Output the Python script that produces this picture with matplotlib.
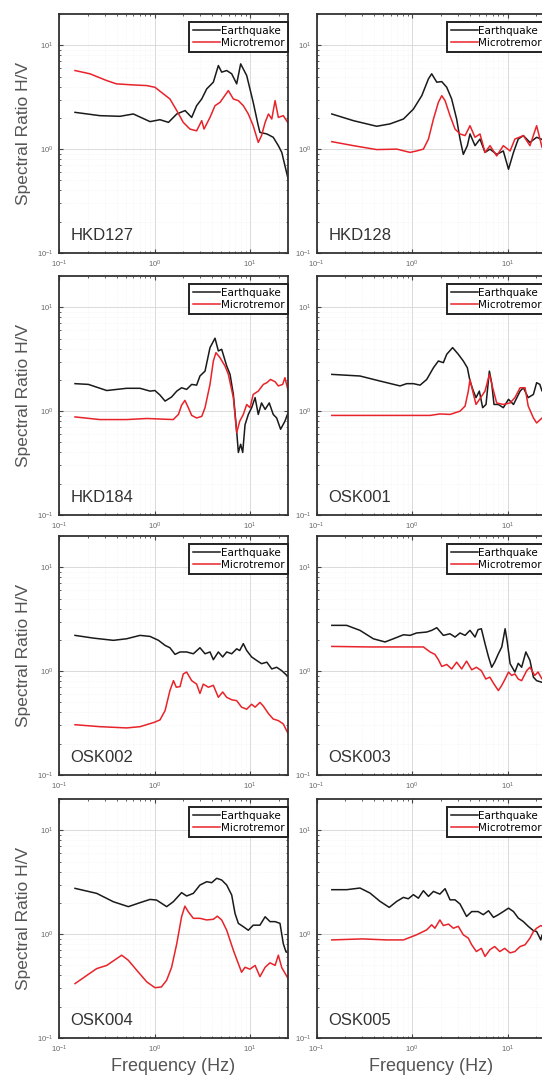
import numpy as np
import matplotlib.pyplot as plt
from matplotlib.ticker import LogLocator, NullFormatter

plt.rcParams['font.family'] = ['Liberation Sans', 'DejaVu Sans']

stations = ['HKD127', 'HKD128', 'HKD184', 'OSK001',
            'OSK002', 'OSK003', 'OSK004', 'OSK005']

# HKD127
hkd127_eq_f = [0.147, 0.268, 0.435, 0.60, 0.897, 1.14, 1.40, 1.71, 2.09, 2.45, 2.76, 3.12, 3.52, 4.13,
               4.66, 5.05, 5.70, 6.43, 7.25, 7.98, 9.23, 10.8, 12.2, 12.7, 15.0, 17.5, 19.8, 21.5, 25.4]
hkd127_eq_v = [2.26, 2.10, 2.07, 2.18, 1.84, 1.92, 1.81, 2.18, 2.35, 2.02, 2.62, 3.04, 3.80, 4.41,
               6.38, 5.51, 5.71, 5.31, 4.25, 6.62, 5.11, 2.82, 1.68, 1.45, 1.40, 1.30, 1.08, 0.93, 0.49]
hkd127_mt_f = [0.147, 0.211, 0.316, 0.40, 0.60, 0.83, 1.01, 1.24, 1.45, 1.71, 2.0, 2.35, 2.76, 3.12, 3.30,
               3.81, 4.30, 4.85, 5.93, 6.69, 7.55, 8.51, 9.6, 10.8, 12.2, 13.2, 14.4, 15.6, 16.9, 18.3,
               19.8, 22.3, 25.4]
hkd127_mt_v = [5.71, 5.31, 4.57, 4.25, 4.15, 4.09, 3.94, 3.40, 3.04, 2.35, 1.81, 1.56, 1.50, 1.88, 1.56,
               2.02, 2.62, 2.82, 3.66, 3.04, 2.93, 2.62, 2.18, 1.68, 1.16, 1.35, 1.81, 2.18, 1.95, 2.93,
               2.02, 2.10, 1.75]

# HKD128
hkd128_eq_f = [0.144, 0.242, 0.425, 0.586, 0.81, 1.03, 1.26, 1.48, 1.60, 1.81, 2.04, 2.30, 2.59, 2.92,
               3.17, 3.43, 3.78, 4.03, 4.55, 5.13, 5.79, 6.53, 7.67, 9.0, 10.2, 11.5, 12.9, 14.6, 17.1,
               20.1, 25.0]
hkd128_eq_v = [2.18, 1.88, 1.66, 1.75, 1.95, 2.43, 3.27, 4.75, 5.31, 4.41, 4.47, 3.94, 3.04, 1.95,
               1.25, 0.89, 1.08, 1.40, 1.08, 1.25, 0.93, 1.00, 0.89, 0.96, 0.64, 0.93, 1.25, 1.35, 1.16,
               1.30, 1.20]
hkd128_mt_f = [0.144, 0.242, 0.425, 0.69, 0.95, 1.11, 1.31, 1.48, 1.67, 1.88, 2.04, 2.21, 2.49, 2.81,
               3.17, 3.58, 4.03, 4.55, 5.13, 5.79, 6.53, 7.67, 9.0, 10.6, 11.9, 14.6, 17.1, 20.1, 22.9,
               25.0]
hkd128_mt_v = [1.18, 1.08, 0.99, 1.00, 0.93, 0.96, 1.00, 1.25, 1.95, 2.82, 3.27, 2.93, 2.10, 1.56,
               1.40, 1.35, 1.68, 1.30, 1.40, 0.93, 1.08, 0.86, 1.08, 0.96, 1.25, 1.35, 1.08, 1.68, 1.04,
               1.20]

# HKD184
hkd184_eq_f = [0.147, 0.203, 0.316, 0.51, 0.705, 0.897, 1.01, 1.14, 1.29, 1.51, 1.71, 1.92, 2.17, 2.45,
               2.76, 2.99, 3.38, 3.81, 4.30, 4.66, 5.05, 5.70, 6.18, 6.69, 7.25, 7.55, 7.98, 8.38, 8.87,
               9.6, 10.4, 11.3, 12.2, 13.2, 14.4, 15.9, 17.5, 19.0, 20.9, 23.2, 25.4]
hkd184_eq_v = [1.84, 1.81, 1.58, 1.66, 1.66, 1.56, 1.58, 1.43, 1.25, 1.37, 1.56, 1.68, 1.62, 1.81,
               1.78, 2.18, 2.43, 4.09, 5.04, 3.80, 3.94, 2.72, 2.26, 1.45, 0.64, 0.40, 0.48, 0.40, 0.74,
               0.93, 1.08, 1.35, 0.93, 1.20, 1.04, 1.20, 0.93, 0.86, 0.67, 0.80, 1.00]
hkd184_mt_f = [0.147, 0.268, 0.51, 0.83, 1.14, 1.57, 1.78, 1.92, 2.08, 2.26, 2.45, 2.76, 3.12, 3.38,
               3.81, 4.13, 4.40, 4.85, 5.47, 5.93, 6.69, 7.25, 7.8, 8.51, 9.23, 10.0, 10.8, 12.2, 13.8,
               15.0, 16.4, 18.3, 19.8, 22.0, 23.2, 25.4]
hkd184_mt_v = [0.88, 0.83, 0.83, 0.85, 0.84, 0.83, 0.93, 1.14, 1.27, 1.08, 0.91, 0.86, 0.89, 1.08,
               1.81, 3.04, 3.66, 3.27, 2.72, 2.26, 1.35, 0.62, 0.80, 0.93, 1.16, 1.08, 1.45, 1.56, 1.81,
               1.88, 2.02, 1.92, 1.75, 1.81, 2.10, 1.50]

# OSK001
osk001_eq_f = [0.144, 0.284, 0.46, 0.746, 0.875, 1.03, 1.21, 1.42, 1.67, 1.88, 2.12, 2.30, 2.65, 3.04,
               3.43, 3.78, 4.03, 4.37, 4.66, 5.05, 5.47, 5.93, 6.43, 6.79, 7.19, 7.98, 9.0, 10.2, 11.5,
               13.5, 14.6, 16.4, 18.6, 20.1, 21.7, 22.9, 25.0]
osk001_eq_v = [2.26, 2.18, 1.95, 1.75, 1.84, 1.84, 1.78, 2.02, 2.62, 3.04, 2.93, 3.53, 4.09, 3.53,
               3.04, 2.62, 1.95, 1.56, 1.35, 1.56, 1.08, 1.16, 2.43, 1.88, 1.16, 1.16, 1.08, 1.30, 1.16,
               1.56, 1.68, 1.35, 1.45, 1.88, 1.81, 1.56, 1.70]
osk001_mt_f = [0.144, 0.361, 0.81, 1.54, 1.95, 2.49, 3.17, 3.58, 3.87, 4.03, 4.30, 4.66, 5.21, 5.79,
               6.43, 6.97, 7.67, 9.0, 10.6, 11.9, 13.5, 15.2, 16.4, 18.6, 20.1, 22.9, 25.0]
osk001_mt_v = [0.91, 0.91, 0.91, 0.91, 0.94, 0.93, 1.00, 1.12, 1.56, 2.02, 1.56, 1.16, 1.35, 1.56,
               2.26, 1.68, 1.20, 1.16, 1.20, 1.35, 1.68, 1.68, 1.12, 0.86, 0.77, 0.86, 0.84]

# OSK002
osk002_eq_f = [0.147, 0.229, 0.371, 0.51, 0.705, 0.897, 1.10, 1.29, 1.45, 1.64, 1.85, 2.17, 2.55, 2.99,
               3.38, 3.81, 4.13, 4.66, 5.17, 5.70, 6.43, 7.25, 7.8, 8.51, 9.23, 10.4, 11.7, 13.2, 15.0,
               16.9, 19.0, 21.5, 25.4]
osk002_eq_v = [2.21, 2.08, 1.98, 2.05, 2.21, 2.16, 1.98, 1.77, 1.68, 1.45, 1.53, 1.53, 1.47, 1.68,
               1.47, 1.53, 1.29, 1.53, 1.37, 1.53, 1.47, 1.64, 1.58, 1.84, 1.58, 1.37, 1.27, 1.18, 1.22,
               1.05, 1.09, 1.01, 0.875]
osk002_mt_f = [0.147, 0.268, 0.51, 0.705, 0.988, 1.14, 1.29, 1.45, 1.58, 1.69, 1.85, 2.0, 2.17, 2.45,
               2.76, 2.99, 3.24, 3.66, 4.13, 4.66, 5.17, 5.70, 6.43, 7.25, 8.16, 9.23, 10.4, 11.3, 12.7,
               13.8, 15.6, 17.5, 19.8, 22.3, 25.4]
osk002_mt_v = [0.305, 0.292, 0.284, 0.292, 0.321, 0.339, 0.417, 0.65, 0.81, 0.70, 0.71, 0.94, 0.98,
               0.81, 0.75, 0.61, 0.75, 0.70, 0.73, 0.56, 0.63, 0.56, 0.53, 0.52, 0.45, 0.43, 0.48, 0.45,
               0.50, 0.46, 0.39, 0.346, 0.334, 0.31, 0.244]

# OSK003
osk003_eq_f = [0.144, 0.206, 0.284, 0.392, 0.52, 0.635, 0.81, 0.95, 1.11, 1.42, 1.60, 1.81, 2.12, 2.49,
               2.81, 3.17, 3.58, 4.03, 4.55, 4.9, 5.30, 5.79, 6.3, 6.8, 7.3, 7.99, 8.67, 9.4, 9.9, 10.6,
               11.9, 12.9, 14.0, 15.5, 17.1, 18.6, 20.1, 22.9, 25.0]
osk003_eq_v = [2.76, 2.76, 2.47, 2.05, 1.91, 2.05, 2.24, 2.21, 2.33, 2.38, 2.47, 2.62, 2.21, 2.29,
               2.13, 2.33, 2.21, 2.47, 2.13, 2.51, 2.56, 1.84, 1.37, 1.09, 1.22, 1.47, 1.71, 2.56, 1.91,
               1.18, 0.98, 1.19, 1.09, 1.53, 1.27, 0.875, 0.81, 0.78, 0.76]
osk003_mt_f = [0.144, 0.361, 0.81, 1.31, 1.54, 1.73, 1.88, 2.04, 2.30, 2.59, 2.92, 3.30, 3.71, 4.2,
               4.7, 5.30, 5.9, 6.5, 7.2, 7.99, 8.67, 9.4, 10.2, 11.0, 11.9, 12.9, 14.0, 15.8, 17.1, 19.2,
               20.8, 22.9, 25.0]
osk003_mt_v = [1.73, 1.71, 1.71, 1.71, 1.53, 1.45, 1.29, 1.11, 1.16, 1.05, 1.22, 1.05, 1.25, 1.03,
               1.09, 1.01, 0.84, 0.875, 0.75, 0.65, 0.73, 0.84, 0.98, 0.91, 0.94, 0.84, 0.81, 1.01, 1.09,
               0.91, 0.98, 0.84, 0.86]

# OSK004
osk004_eq_f = [0.147, 0.248, 0.371, 0.532, 0.705, 0.897, 1.05, 1.34, 1.57, 1.92, 2.17, 2.55, 2.99, 3.52,
               3.97, 4.48, 5.05, 5.70, 6.43, 6.97, 7.55, 8.51, 9.6, 10.8, 12.7, 14.4, 16.2, 18.3, 20.6,
               22.3, 23.8, 25.4]
osk004_eq_v = [2.76, 2.47, 2.05, 1.84, 2.01, 2.16, 2.13, 1.84, 2.05, 2.51, 2.33, 2.47, 2.97, 3.20,
               3.13, 3.45, 3.32, 2.97, 2.38, 1.58, 1.27, 1.18, 1.09, 1.22, 1.22, 1.47, 1.32, 1.32, 1.27,
               0.81, 0.675, 0.66]
osk004_mt_f = [0.147, 0.195, 0.248, 0.316, 0.453, 0.532, 0.65, 0.83, 1.01, 1.18, 1.34, 1.51, 1.71, 1.92,
               2.08, 2.26, 2.55, 2.99, 3.52, 4.13, 4.55, 5.05, 5.70, 6.69, 7.55, 8.16, 8.87, 9.96, 11.3,
               12.7, 14.4, 16.2, 18.3, 19.8, 21.5, 25.4]
osk004_mt_v = [0.334, 0.40, 0.466, 0.50, 0.627, 0.56, 0.45, 0.347, 0.305, 0.31, 0.36, 0.48, 0.81, 1.47,
               1.86, 1.64, 1.42, 1.42, 1.37, 1.39, 1.49, 1.37, 1.09, 0.70, 0.52, 0.43, 0.48, 0.46, 0.50,
               0.39, 0.48, 0.53, 0.50, 0.627, 0.476, 0.365]

# OSK005
osk005_eq_f = [0.144, 0.206, 0.284, 0.361, 0.46, 0.575, 0.69, 0.81, 0.91, 1.03, 1.16, 1.31, 1.48, 1.67,
               1.95, 2.21, 2.49, 2.81, 3.17, 3.71, 4.2, 4.9, 5.55, 6.3, 7.1, 8.0, 9.0, 10.2, 11.5, 12.9,
               14.6, 16.4, 18.6, 20.1, 22.2, 22.9, 25.0]
osk005_eq_v = [2.68, 2.68, 2.78, 2.49, 2.07, 1.81, 2.07, 2.26, 2.19, 2.40, 2.22, 2.62, 2.31, 2.58,
               2.43, 2.74, 2.14, 2.14, 1.95, 1.48, 1.65, 1.65, 1.54, 1.68, 1.45, 1.54, 1.65, 1.78, 1.65,
               1.43, 1.32, 1.19, 1.08, 1.06, 0.88, 0.98, 0.95]
osk005_mt_f = [0.144, 0.30, 0.54, 0.81, 1.11, 1.42, 1.60, 1.73, 1.95, 2.12, 2.40, 2.70, 3.04, 3.43,
               3.87, 4.2, 4.7, 5.30, 5.79, 6.53, 7.3, 8.27, 9.3, 10.6, 11.9, 13.5, 15.2, 17.1, 18.6, 20.1,
               22.2, 25.0]
osk005_mt_v = [0.88, 0.90, 0.88, 0.88, 0.985, 1.10, 1.23, 1.14, 1.37, 1.21, 1.25, 1.14, 1.19, 0.985,
               0.915, 0.79, 0.68, 0.73, 0.61, 0.71, 0.76, 0.68, 0.73, 0.66, 0.68, 0.76, 0.79, 0.915, 1.06,
               1.14, 1.21, 1.15]

eq_f = [hkd127_eq_f, hkd128_eq_f, hkd184_eq_f, osk001_eq_f, osk002_eq_f, osk003_eq_f, osk004_eq_f, osk005_eq_f]
eq_v = [hkd127_eq_v, hkd128_eq_v, hkd184_eq_v, osk001_eq_v, osk002_eq_v, osk003_eq_v, osk004_eq_v, osk005_eq_v]
mt_f = [hkd127_mt_f, hkd128_mt_f, hkd184_mt_f, osk001_mt_f, osk002_mt_f, osk003_mt_f, osk004_mt_f, osk005_mt_f]
mt_v = [hkd127_mt_v, hkd128_mt_v, hkd184_mt_v, osk001_mt_v, osk002_mt_v, osk003_mt_v, osk004_mt_v, osk005_mt_v]

fig = plt.figure(figsize=(5.42, 10.77), dpi=100)

lefts = [0.1089, 0.5843]
bottoms = [0.7651, 0.5218, 0.2804, 0.0362]
w, h = 0.4225, 0.2219

for k in range(8):
    r, c = k // 2, k % 2
    ax = fig.add_axes([lefts[c], bottoms[r], w, h])
    ax.plot(eq_f[k], eq_v[k], color='#1a1a1a', lw=1.1, label='Earthquake')
    ax.plot(mt_f[k], mt_v[k], color='#e8232a', lw=1.1, label='Microtremor')
    ax.set_xscale('log')
    ax.set_yscale('log')
    ax.set_xlim(0.1, 25)
    ax.set_ylim(0.1, 20)
    ax.xaxis.set_major_locator(LogLocator(base=10, numticks=10))
    ax.yaxis.set_major_locator(LogLocator(base=10, numticks=10))
    ax.xaxis.set_minor_locator(LogLocator(base=10, subs=np.arange(2, 10), numticks=20))
    ax.yaxis.set_minor_locator(LogLocator(base=10, subs=np.arange(2, 10), numticks=20))
    ax.xaxis.set_minor_formatter(NullFormatter())
    ax.yaxis.set_minor_formatter(NullFormatter())
    ax.grid(True, which='major', color='#d4d4d4', lw=0.6)
    ax.grid(True, which='minor', color='#ececec', lw=0.4, ls=':')
    ax.set_axisbelow(True)
    ax.tick_params(which='both', direction='in', top=True, right=True,
                   labelsize=5.5, labelcolor='#666666', color='#444444', pad=4)
    ax.tick_params(which='major', length=3)
    ax.tick_params(which='minor', length=1.5)
    for s in ax.spines.values():
        s.set_color('#333333')
        s.set_linewidth(1.3)
    leg = ax.legend(loc='upper right', bbox_to_anchor=(1.0, 0.966),
                    prop={'family': 'DejaVu Sans', 'size': 7.5},
                    handlelength=2.6, handletextpad=0.05, borderaxespad=0.0,
                    borderpad=0.35, labelspacing=0.2, fancybox=False, framealpha=1)
    leg.get_frame().set_edgecolor('#222222')
    leg.get_frame().set_linewidth(1.4)
    ax.text(0.05, 0.04, stations[k], transform=ax.transAxes, fontsize=12,
            color='#333333', ha='left', va='bottom')
    if c == 0:
        ax.set_ylabel('Spectral Ratio H/V', fontsize=12.5, color='#555555', labelpad=4)
    if r == 3:
        ax.set_xlabel('Frequency (Hz)', fontsize=13, color='#555555', labelpad=2)

fig.savefig('out.png', dpi=100)
